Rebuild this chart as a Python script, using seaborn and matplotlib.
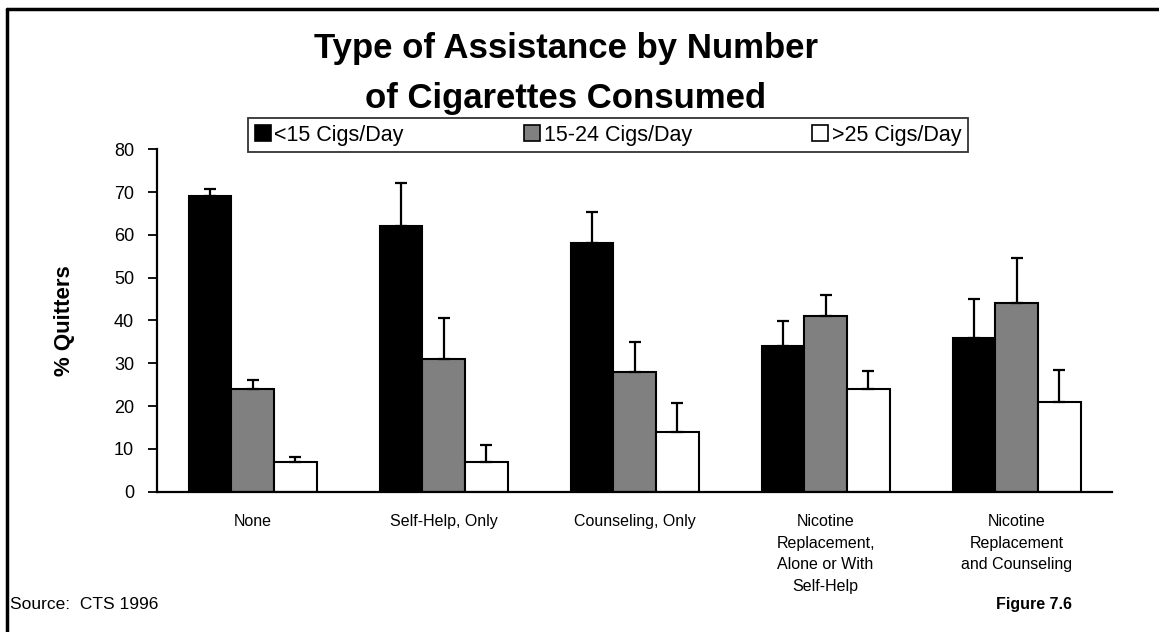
import numpy as np
import pandas as pd
import matplotlib
matplotlib.use("Agg")
import matplotlib.pyplot as plt
from matplotlib.lines import Line2D
import seaborn as sns

categories = ["None", "Self-Help, Only", "Counseling, Only",
              "Nicotine\nReplacement,\nAlone or With\nSelf-Help",
              "Nicotine\nReplacement\nand Counseling"]
series = ["<15 Cigs/Day", "15-24 Cigs/Day", ">25 Cigs/Day"]
vals_lt15 = [69, 62, 58, 34, 36]
vals_15_24 = [24, 31, 28, 41, 44]
vals_gt25 = [7, 7, 14, 24, 21]
err_lt15 = [1.8, 10.1, 7.4, 5.8, 9.0]
err_15_24 = [2.0, 9.5, 7.0, 5.0, 10.7]
err_gt25 = [1.2, 4.0, 6.8, 4.3, 7.5]
yticks = [0, 10, 20, 30, 40, 50, 60, 70, 80]

colors = ["#000000", "#808080", "#ffffff"]

rows = []
for s, v, e in zip(series, [vals_lt15, vals_15_24, vals_gt25], [err_lt15, err_15_24, err_gt25]):
    for c, vi, ei in zip(categories, v, e):
        rows.append({"cat": c, "series": s, "value": vi, "err": ei})
df = pd.DataFrame(rows)

sns.set_theme(style="white")
plt.rcParams['font.family'] = ['Liberation Sans', 'DejaVu Sans']
plt.rcParams.update({"text.color": "black", "axes.labelcolor": "black",
                     "xtick.color": "black", "ytick.color": "black"})

fig = plt.figure(figsize=(11.59, 6.32), dpi=100)
ax = fig.add_axes([0.1355, 0.222, 0.824, 0.5418])

sns.barplot(data=df, x="cat", y="value", hue="series", order=categories,
            hue_order=series, palette=colors, edgecolor="black", linewidth=1.5,
            width=0.67, errorbar=None, legend=False, ax=ax, saturation=1)

# error bars (upper only) positioned at bar centers
for container, s in zip(ax.containers, series):
    sub = df[df["series"] == s].set_index("cat").loc[categories]
    xs = [p.get_x() + p.get_width() / 2 for p in container.patches]
    ax.errorbar(xs, sub["value"].values,
                yerr=[np.zeros(len(xs)), sub["err"].values],
                fmt="none", ecolor="black", elinewidth=1.6, capsize=4,
                capthick=1.6, zorder=3)

ax.set_ylim(0, 80)
ax.set_yticks(yticks)
ax.set_xlim(-0.5, len(categories) - 0.5)
ax.set_xlabel("")
ax.set_ylabel("% Quitters", fontsize=16, fontweight="bold", labelpad=28)
sns.despine(ax=ax)
for sp in ["left", "bottom"]:
    ax.spines[sp].set_color("black")
    ax.spines[sp].set_linewidth(1.6)
ax.tick_params(axis="y", left=True, length=6.5, width=1.3, color="black",
               labelsize=13, pad=10)
ax.tick_params(axis="x", bottom=False, labelsize=11.5, pad=10)
for lbl in ax.get_xticklabels():
    lbl.set_linespacing(1.55)

handles = [plt.Rectangle((0, 0), 1, 1, facecolor=c, edgecolor="black", linewidth=1.2)
           for c in colors]
leg = fig.legend(handles, series, loc="center", bbox_to_anchor=(0.5246, 0.786),
                 ncol=3, frameon=True, fontsize=15.5, handlelength=0.75,
                 handleheight=0.75, handletextpad=0.15, columnspacing=5.6,
                 borderpad=0.3, fancybox=False, edgecolor="black")
leg.get_frame().set_linewidth(1.3)

fig.text(0.488, 0.884, "Type of Assistance by Number\nof Cigarettes Consumed",
         ha="center", va="center", fontsize=25, fontweight="bold",
         linespacing=1.65)

fig.text(0.009, 0.043, "Source:  CTS 1996", fontsize=12.5, ha="left", va="center")
fig.text(0.925, 0.043, "Figure 7.6", fontsize=11.5, fontweight="bold",
         ha="right", va="center")

fig.add_artist(Line2D([0.006, 1.0], [0.986, 0.986], color="black", lw=2.5,
                      transform=fig.transFigure))
fig.add_artist(Line2D([0.006, 0.006], [0.0, 0.986], color="black", lw=2.5,
                      transform=fig.transFigure))

fig.savefig("out.png", dpi=100, facecolor="white")
